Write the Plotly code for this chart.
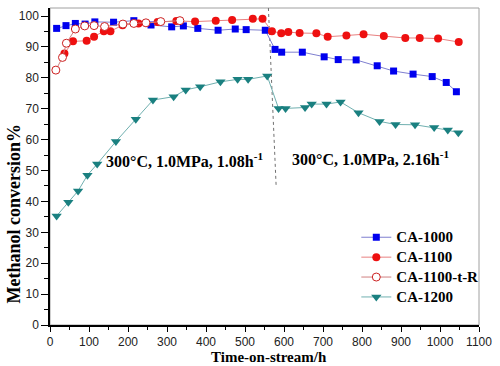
import plotly.graph_objects as go

ca1000_x = [17, 41, 65, 90, 115, 163, 215, 259, 312, 342, 379, 431, 475, 503, 552,
            577, 594, 647, 703, 739, 785, 839, 881, 931, 980, 1016, 1042]
ca1000_y = [96.0, 96.9, 97.6, 97.4, 98.1, 98.0, 98.5, 97.1, 96.5, 96.8, 96.0, 95.4, 95.8, 95.6, 95.4,
            89.2, 88.3, 88.3, 86.8, 85.9, 85.8, 83.9, 82.2, 81.2, 80.4, 78.5, 75.5]

ca1100_x = [37, 59, 94, 113, 138, 155, 186, 227, 276, 324, 372, 425, 467, 520, 545,
            569, 593, 611, 640, 683, 712, 760, 804, 856, 911, 948, 995, 1048]
ca1100_y = [87.9, 91.8, 92.0, 93.3, 95.1, 95.1, 97.0, 97.6, 98.1, 98.4, 98.2, 98.5, 98.7, 99.1, 99.1,
            95.1, 94.4, 94.8, 94.5, 94.4, 93.3, 93.7, 94.1, 93.5, 92.9, 92.9, 92.7, 91.6]

ca1100tr_x = [15, 32, 42, 65, 89, 113, 140, 187, 215, 246, 284, 333]
ca1100tr_y = [82.5, 86.6, 91.2, 95.8, 96.8, 96.9, 96.6, 97.4, 97.6, 97.8, 98.2, 98.5]

ca1200_x = [17, 47, 72, 96, 121, 169, 220, 264, 317, 348, 385, 437, 481, 508, 557,
            586, 604, 654, 671, 709, 745, 791, 845, 886, 936, 985, 1020, 1047]
ca1200_y = [35.3, 39.7, 43.4, 48.5, 52.1, 59.4, 66.6, 72.8, 73.9, 76.1, 77.1, 78.7, 79.5, 79.5, 80.6,
            70.1, 70.1, 70.4, 71.5, 71.5, 72.2, 68.7, 65.9, 64.9, 64.8, 63.9, 63.1, 62.2]

divider_x = [560, 580]
divider_y = [102.6, 44.5]

cond1_label = "<b>300°C, 1.0MPa, 1.08h<sup>-1</sup></b>"
cond2_label = "<b>300°C, 1.0MPa, 2.16h<sup>-1</sup></b>"
cond1_pos = (344, 53.5)
cond2_pos = (822, 54)

x_ticks = list(range(0, 1101, 100))
y_ticks = list(range(0, 101, 10))

SERIF = "Liberation Serif, Times New Roman, serif"
SANS = "Liberation Sans, Arial, sans-serif"


def legend_name(s):
    return "<span style='font-size:15px'><b>" + s + "</b></span>"


fig = go.Figure()

fig.add_trace(go.Scatter(x=divider_x, y=divider_y, mode="lines",
                         line=dict(color="#707070", width=1, dash="dot"),
                         showlegend=False, hoverinfo="skip"))

fig.add_trace(go.Scatter(x=ca1000_x, y=ca1000_y, mode="lines+markers", name=legend_name("CA-1000"),
                         line=dict(color="#7f7fd0", width=1),
                         marker=dict(symbol="square", size=7, color="#0000ee",
                                     line=dict(width=0))))
fig.add_trace(go.Scatter(x=ca1100_x, y=ca1100_y, mode="lines+markers", name=legend_name("CA-1100"),
                         line=dict(color="#e88080", width=1),
                         marker=dict(symbol="circle", size=8, color="#ee1010",
                                     line=dict(width=0))))
fig.add_trace(go.Scatter(x=ca1100tr_x, y=ca1100tr_y, mode="lines+markers", name=legend_name("CA-1100-t-R"),
                         line=dict(color="#d08080", width=1),
                         marker=dict(symbol="circle", size=8, color="white",
                                     line=dict(width=1, color="#cc2020"))))
fig.add_trace(go.Scatter(x=ca1200_x, y=ca1200_y, mode="lines+markers", name=legend_name("CA-1200"),
                         line=dict(color="#70b0b0", width=1),
                         marker=dict(symbol="triangle-down", size=9, color="#1a8080",
                                     line=dict(width=0))))

fig.add_annotation(x=cond1_pos[0], y=cond1_pos[1], text=cond1_label, showarrow=False,
                   xanchor="center", yanchor="middle",
                   font=dict(family=SERIF, size=16, color="black"))
fig.add_annotation(x=cond2_pos[0], y=cond2_pos[1], text=cond2_label, showarrow=False,
                   xanchor="center", yanchor="middle",
                   font=dict(family=SERIF, size=16, color="black"))

fig.add_annotation(xref="paper", yref="paper", x=-0.083, y=0.353,
                   xanchor="center", yanchor="middle",
                   text="<b>Methanol conversion%</b>", textangle=-90, showarrow=False,
                   font=dict(family=SERIF, size=18, color="black"))

fig.add_annotation(xref="paper", yref="paper", x=0.51, y=-0.1,
                   xanchor="center", yanchor="middle",
                   text="<b>Time-on-stream/h</b>", showarrow=False,
                   font=dict(family=SERIF, size=15, color="black"))

fig.add_shape(type="rect", xref="paper", yref="paper", x0=0, y0=0, x1=1, y1=1,
              line=dict(color="#a0a0a0", width=1), layer="below")

fig.update_xaxes(range=[0, 1100], tickvals=x_ticks, ticks="outside", ticklen=5, tickwidth=1,
                 tickcolor="black", showgrid=False, zeroline=False, showline=True,
                 linecolor="black", linewidth=1.5,
                 minor=dict(dtick=50, ticks="outside", ticklen=3, tickcolor="black", showgrid=False),
                 tickfont=dict(family=SANS, size=12, color="#222222"))
fig.update_yaxes(range=[0, 102.6], tickvals=y_ticks, ticks="outside", ticklen=7, tickwidth=1,
                 tickcolor="black", showgrid=False, zeroline=False, showline=True,
                 linecolor="black", linewidth=1.5,
                 minor=dict(dtick=5, ticks="outside", ticklen=4, tickcolor="black", showgrid=False),
                 tickfont=dict(family=SANS, size=12, color="#222222"))

fig.update_layout(width=500, height=366, margin=dict(l=50, r=18, t=8, b=41),
                  plot_bgcolor="white", paper_bgcolor="white",
                  legend=dict(x=0.714, y=0.324, xanchor="left", yanchor="top",
                              bgcolor="rgba(0,0,0,0)", tracegroupgap=0,
                              font=dict(family=SERIF, size=13, color="black")),
                  showlegend=True)

fig.write_html("out.html", config={"displayModeBar": False},
               post_script="document.body.style.margin='0';document.body.style.overflow='hidden';")
